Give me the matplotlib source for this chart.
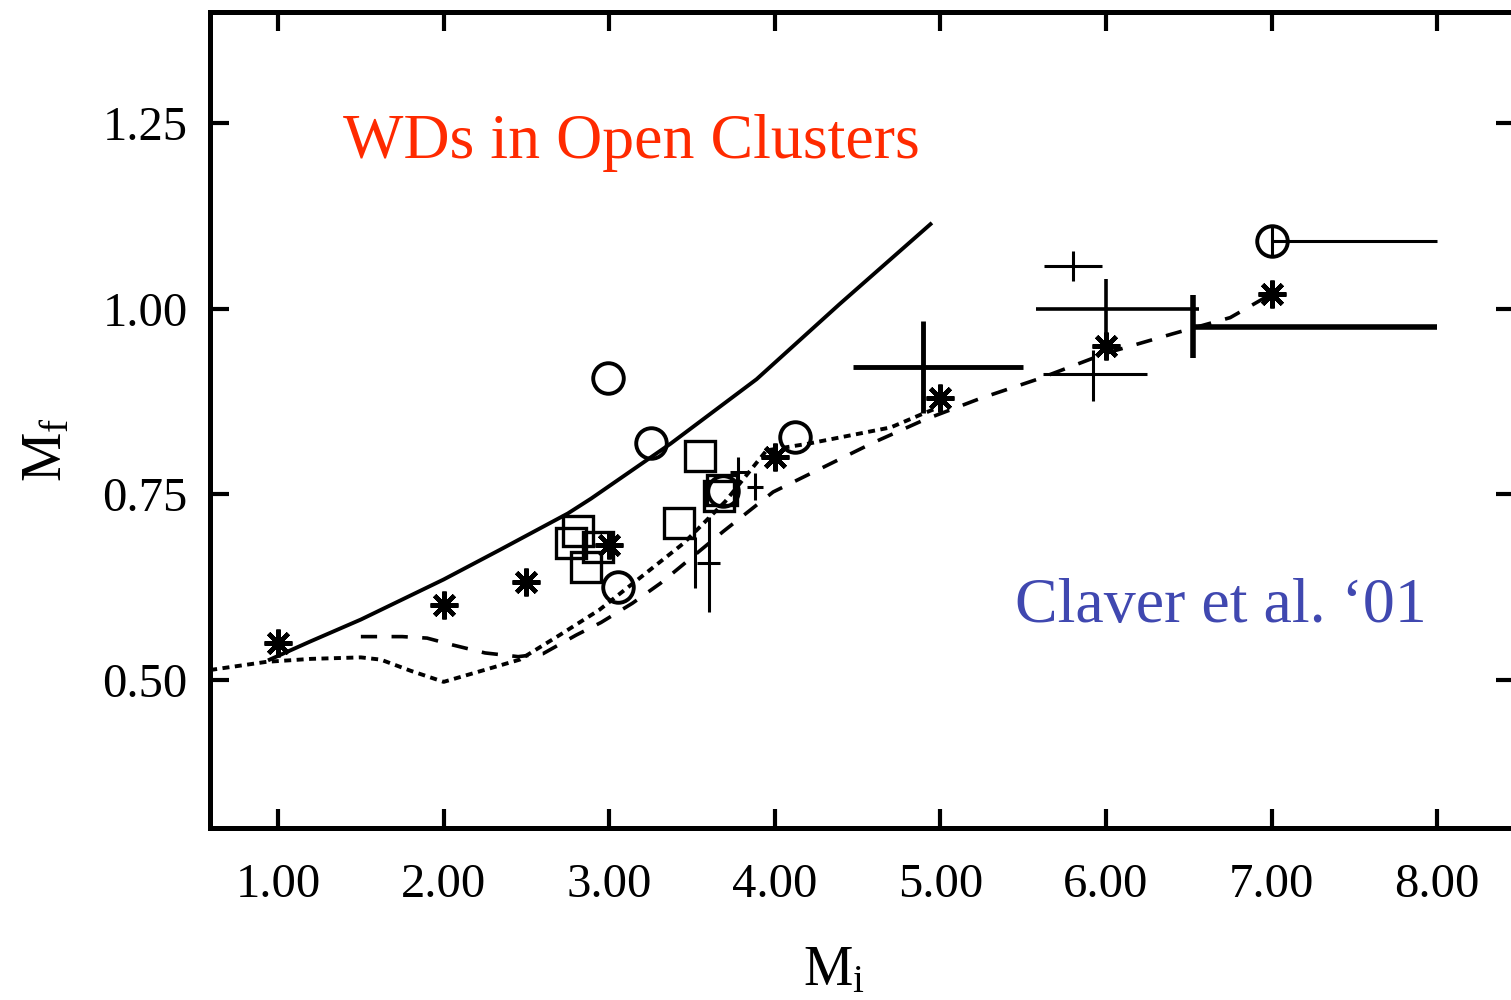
import matplotlib
matplotlib.use("Agg")
import matplotlib.pyplot as plt
import numpy as np

plt.rcParams['font.family'] = ['Liberation Serif', 'DejaVu Serif']
plt.rcParams['mathtext.fontset'] = 'custom'
plt.rcParams['mathtext.rm'] = 'Liberation Serif'
plt.rcParams['mathtext.it'] = 'Liberation Serif:italic'

# model curves
solid_x = [0.95, 1.19, 1.5, 2.0, 2.34, 2.75, 2.89, 3.37, 3.89, 4.39, 4.94]
solid_y = [0.527, 0.551, 0.581, 0.635, 0.675, 0.724, 0.744, 0.818, 0.905, 1.006, 1.114]

dot_x = [0.59, 0.93, 1.2, 1.5, 1.62, 1.8, 2.0, 2.2, 2.46, 2.7, 2.94, 3.19, 3.45, 3.7,
         3.95, 4.2, 4.7, 4.9, 5.0]
dot_y = [0.513, 0.524, 0.528, 0.53, 0.527, 0.512, 0.497, 0.51, 0.527, 0.56, 0.594, 0.638,
         0.684, 0.74, 0.809, 0.818, 0.84, 0.859, 0.868]

dash_x = [1.5, 1.75, 1.9, 2.05, 2.25, 2.45, 2.6, 2.8, 2.95, 3.14, 3.31, 3.69, 3.99, 4.29,
          4.59, 4.9, 5.24, 5.6, 6.0, 6.4, 6.75, 7.0]
dash_y = [0.558, 0.558, 0.556, 0.547, 0.536, 0.531, 0.535, 0.56, 0.577, 0.603, 0.63, 0.70,
          0.753, 0.786, 0.819, 0.85, 0.879, 0.906, 0.94, 0.966, 0.988, 1.02]

# symbols
ast_x = [1, 2, 2.5, 3, 4, 5, 6, 7]
ast_y = [0.55, 0.60, 0.632, 0.681, 0.80, 0.88, 0.95, 1.02]

circ_x = [2.99, 3.25, 3.05, 3.69, 4.12]
circ_y = [0.907, 0.819, 0.625, 0.754, 0.827]

sq_x = [2.81, 2.77, 2.86, 2.93, 3.55, 3.42, 3.66, 3.68]
sq_y = [0.70, 0.684, 0.652, 0.679, 0.802, 0.711, 0.748, 0.755]

# error bars: centre, x error (low, high), y error (low, high)
eb_x = [3.52, 3.60, 3.78, 3.88, 4.895, 5.80, 6.0, 5.92, 6.525, 7.0]
eb_y = [0.658, 0.657, 0.78, 0.76, 0.921, 1.058, 1.0, 0.912, 0.976, 1.091]
eb_xlo = [0.0, 0.07, 0.05, 0.05, 0.425, 0.175, 0.42, 0.30, 0.0, 0.0]
eb_xhi = [0.0, 0.07, 0.05, 0.05, 0.605, 0.175, 0.56, 0.33, 1.475, 1.0]
eb_ylo = [0.034, 0.066, 0.02, 0.018, 0.062, 0.02, 0.066, 0.037, 0.043, 0.02]
eb_yhi = [0.034, 0.062, 0.02, 0.018, 0.062, 0.02, 0.04, 0.032, 0.043, 0.02]
eb_lw = [2.2, 2.2, 2.2, 2.2, 3.5, 2.2, 2.6, 2.2, 4.0, 2.2]

fig = plt.figure(figsize=(15.11, 10), dpi=100)
ax = fig.add_axes([210 / 1511, 0.172, 1305 / 1511, 0.816])

ax.plot(solid_x, solid_y, '-', color='black', lw=2.8)
ax.plot(dot_x, dot_y, color='black', lw=2.8, dashes=(1.8, 1.4))
ax.plot(dash_x, dash_y, color='black', lw=2.6, dashes=(4.5, 4))

for i in range(len(eb_x)):
    ax.errorbar(eb_x[i], eb_y[i],
                xerr=[[eb_xlo[i]], [eb_xhi[i]]], yerr=[[eb_ylo[i]], [eb_yhi[i]]],
                fmt='none', ecolor='black', elinewidth=eb_lw[i], capsize=0)

ax.plot(ast_x, ast_y, linestyle='none', marker=(8, 2, 0), ms=20, mew=3.2, color='black')
ax.plot(circ_x, circ_y, linestyle='none', marker='o', ms=22, mew=2.8,
        mfc='none', mec='black')
ax.plot([eb_x[-1]], [eb_y[-1]], linestyle='none', marker='o', ms=22, mew=2.8,
        mfc='none', mec='black')
ax.plot(sq_x, sq_y, linestyle='none', marker='s', ms=21, mew=2.4,
        mfc='none', mec='black')

ax.set_xlim(0.589, 8.47)
ax.set_ylim(0.3, 1.4)
ax.set_xticks([1, 2, 3, 4, 5, 6, 7, 8])
ax.set_xticklabels(['1.00', '2.00', '3.00', '4.00', '5.00', '6.00', '7.00', '8.00'])
ax.set_yticks([0.5, 0.75, 1.0, 1.25])
ax.set_yticklabels(['0.50', '0.75', '1.00', '1.25'])
ax.tick_params(direction='in', length=14, width=3, labelsize=35,
               top=True, right=True)
ax.tick_params(axis='x', pad=25)
ax.tick_params(axis='y', pad=16)
for s in ax.spines.values():
    s.set_linewidth(3.6)

ax.text(1.39, 1.203, 'WDs in Open Clusters', color='#ff2a00', fontsize=46,
        va='baseline', ha='left')
ax.text(5.45, 0.578, 'Claver et al. \u201801', color='#4048b0', fontsize=46,
        va='baseline', ha='left')

fig.text(0.552, 0.015, r'$\mathrm{M_i}$', fontsize=40, ha='center', va='baseline')
fig.text(0.031, 0.55, r'$\mathrm{M_f}$', fontsize=40, ha='center', va='center',
         rotation=90)

fig.savefig('out.png', dpi=100)
